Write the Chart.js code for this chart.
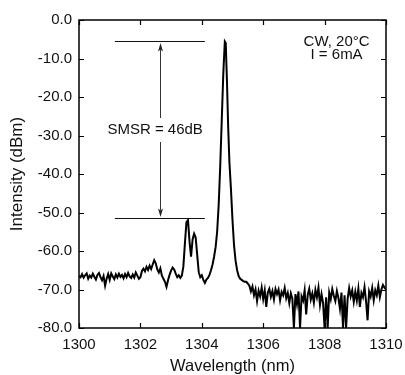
<!DOCTYPE html>
<html>
<head>
<meta charset="utf-8">
<script src="https://cdn.jsdelivr.net/npm/chart.js@4.4.1/dist/chart.umd.min.js"></script>
<style>
html,body{margin:0;padding:0;background:#fff;}
#wrap{width:405px;height:375px;position:relative;}
</style>
</head>
<body>
<div id="wrap"><canvas id="c" width="405" height="375"></canvas></div>
<script>
// Wavelength (nm)
const wavelength = [
1300.00,1300.05,1300.10,1300.15,1300.20,1300.25,1300.30,1300.35,1300.40,1300.45,
1300.50,1300.55,1300.60,1300.65,1300.70,1300.75,1300.80,1300.85,1300.90,1300.95,
1301.00,1301.05,1301.10,1301.15,1301.20,1301.25,1301.30,1301.35,1301.40,1301.45,
1301.50,1301.55,1301.60,1301.65,1301.70,1301.75,1301.80,1301.85,1301.90,1301.95,
1302.00,1302.05,1302.10,1302.15,1302.20,1302.25,1302.30,1302.35,1302.40,1302.45,
1302.50,1302.55,1302.60,1302.65,1302.70,1302.75,1302.80,1302.85,1302.90,1302.95,
1303.00,1303.05,1303.10,1303.15,1303.20,1303.25,1303.30,1303.35,1303.40,1303.45,
1303.50,1303.55,1303.60,1303.65,1303.70,1303.75,1303.80,1303.85,1303.90,1303.95,
1304.00,1304.05,1304.10,1304.15,1304.20,1304.25,1304.30,1304.35,1304.40,1304.45,
1304.50,1304.55,1304.60,1304.65,1304.70,1304.75,1304.78,1304.82,1304.86,1304.90,
1304.95,1305.00,1305.05,1305.10,1305.15,1305.20,1305.25,1305.30,1305.35,1305.40,
1305.45,1305.50,1305.55,1305.60,1305.65,1305.70,1305.75,1305.80,1305.85,1305.90,
1305.95,1306.00,1306.05,1306.10,1306.15,1306.20,1306.25,1306.30,1306.35,1306.40,
1306.45,1306.50,1306.55,1306.60,1306.65,1306.70,1306.75,1306.80,1306.85,1306.90,
1306.95,1307.00,1307.05,1307.10,1307.15,1307.20,1307.25,1307.30,1307.35,1307.40,
1307.45,1307.50,1307.55,1307.60,1307.65,1307.70,1307.75,1307.80,1307.85,1307.90,
1307.95,1308.00,1308.05,1308.10,1308.15,1308.20,1308.25,1308.30,1308.35,1308.40,
1308.45,1308.50,1308.55,1308.60,1308.65,1308.70,1308.75,1308.80,1308.85,1308.90,
1308.95,1309.00,1309.05,1309.10,1309.15,1309.20,1309.25,1309.30,1309.35,1309.40,
1309.45,1309.50,1309.55,1309.60,1309.65,1309.70,1309.75,1309.80,1309.85,1309.90,
1309.95,1310.00
];
// Intensity (dBm)
const intensity = [
-66.5,-66.8,-66.0,-66.9,-66.3,-65.8,-67.2,-66.4,-66.9,-65.9,
-66.7,-67.4,-66.2,-65.7,-66.8,-67.6,-66.5,-69.0,-67.2,-66.0,
-67.5,-65.8,-66.6,-67.3,-66.1,-66.9,-65.9,-66.7,-66.2,-67.1,
-66.0,-66.8,-65.7,-66.6,-67.0,-66.1,-66.9,-65.6,-66.4,-67.2,
-66.8,-65.2,-64.6,-65.3,-64.1,-64.9,-63.8,-64.7,-63.5,-62.4,
-63.2,-64.8,-65.6,-64.5,-66.4,-67.2,-68.0,-69.3,-67.6,-66.2,
-65.1,-64.3,-64.8,-65.9,-66.8,-66.3,-67.0,-66.4,-64.0,-58.0,
-52.5,-52.0,-57.5,-61.5,-57.0,-55.5,-56.5,-61.0,-65.5,-66.8,
-66.3,-67.5,-68.3,-67.4,-67.0,-66.2,-65.0,-63.5,-61.5,-59.0,
-55.0,-48.0,-38.0,-26.0,-14.0,-5.6,-6.0,-16.0,-28.0,-37.0,
-44.0,-52.0,-58.5,-62.5,-65.0,-66.5,-67.2,-67.5,-67.8,-68.0,
-68.0,-68.5,-69.0,-70.5,-69.2,-71.5,-70.0,-73.0,-70.3,-71.8,
-69.5,-72.5,-70.2,-74.5,-70.8,-69.8,-71.9,-70.4,-72.6,-69.9,
-71.2,-70.0,-72.8,-70.6,-71.5,-69.6,-72.3,-70.9,-73.5,-71.0,
-72.4,-80.0,-71.2,-73.8,-70.5,-80.0,-71.8,-72.9,-70.2,-76.5,
-71.4,-69.8,-72.6,-71.0,-73.4,-70.1,-72.0,-69.5,-74.0,-71.2,
-73.5,-80.0,-72.0,-80.0,-70.8,-72.5,-69.9,-71.6,-73.0,-70.4,
-72.2,-75.0,-70.8,-80.0,-71.5,-80.0,-72.4,-69.6,-71.8,-70.2,
-73.2,-70.6,-72.9,-69.8,-74.5,-70.9,-72.0,-69.4,-73.0,-78.0,
-70.5,-71.8,-69.6,-72.8,-70.2,-71.5,-69.0,-72.0,-70.0,-68.8,
-69.5,-70.0
];
const xTicks = [1300,1302,1304,1306,1308,1310];
const yTicks = [0,-10,-20,-30,-40,-50,-60,-70,-80];
// SMSR annotation (data units)
const smsrLineX = [1301.17, 1304.1];
const smsrArrowX = 1302.64;
const smsrLabelX = 1302.48;
const smsrTopLevel = -5.4;
const smsrBottomLevel = -51.3;
const smsrLabel = 'SMSR = 46dB';
const condLabelX = 1308.39;
const condLines = ['CW, 20°C', 'I = 6mA'];

const FONT = '"Liberation Sans", Arial, sans-serif';

const framePlugin = {
  id: 'frame',
  afterDatasetsDraw(chart) {
    const {ctx, chartArea: a, scales: {x, y}} = chart;
    ctx.save();
    ctx.strokeStyle = '#000';
    ctx.lineWidth = 1.5;
    ctx.strokeRect(a.left, a.top, a.right - a.left, a.bottom - a.top);
    ctx.lineWidth = 1.2;
    const tl = 5;
    ctx.beginPath();
    xTicks.forEach(v => {
      const px = Math.round(x.getPixelForValue(v)) + 0.5;
      ctx.moveTo(px, a.bottom); ctx.lineTo(px, a.bottom - tl);
      ctx.moveTo(px, a.top); ctx.lineTo(px, a.top + tl);
    });
    yTicks.forEach(v => {
      const py = Math.round(y.getPixelForValue(v)) + 0.5;
      ctx.moveTo(a.left, py); ctx.lineTo(a.left + tl, py);
      ctx.moveTo(a.right, py); ctx.lineTo(a.right - tl, py);
    });
    ctx.stroke();

    const x0 = x.getPixelForValue(smsrLineX[0]);
    const x1 = x.getPixelForValue(smsrLineX[1]);
    const yTop = Math.round(y.getPixelForValue(smsrTopLevel)) + 0.5;
    const yBot = Math.round(y.getPixelForValue(smsrBottomLevel)) + 0.5;
    ctx.lineWidth = 1;
    ctx.strokeStyle = '#111';
    ctx.beginPath();
    ctx.moveTo(x0, yTop); ctx.lineTo(x1, yTop);
    ctx.moveTo(x0, yBot); ctx.lineTo(x1, yBot);
    ctx.stroke();

    const ax = Math.round(x.getPixelForValue(smsrArrowX)) + 0.5;
    const yMid = (yTop + yBot) / 2;
    const gap = 12;
    ctx.strokeStyle = '#333';
    ctx.beginPath();
    ctx.moveTo(ax, yTop + 8); ctx.lineTo(ax, yMid - gap);
    ctx.moveTo(ax, yMid + gap); ctx.lineTo(ax, yBot - 8);
    ctx.stroke();
    ctx.fillStyle = '#222';
    ctx.beginPath();
    ctx.moveTo(ax, yTop + 1.5); ctx.lineTo(ax - 2.5, yTop + 10); ctx.lineTo(ax, yTop + 8); ctx.lineTo(ax + 2.5, yTop + 10); ctx.closePath();
    ctx.fill();
    ctx.beginPath();
    ctx.moveTo(ax, yBot - 1.5); ctx.lineTo(ax - 2.5, yBot - 10); ctx.lineTo(ax, yBot - 8); ctx.lineTo(ax + 2.5, yBot - 10); ctx.closePath();
    ctx.fill();

    ctx.fillStyle = '#111';
    ctx.font = '15px ' + FONT;
    ctx.textAlign = 'center';
    ctx.textBaseline = 'middle';
    ctx.fillText(smsrLabel, x.getPixelForValue(smsrLabelX), yMid);

    const cx = x.getPixelForValue(condLabelX);
    ctx.fillText(condLines[0], cx, a.top + 22);
    ctx.fillText(condLines[1], cx, a.top + 35);
    ctx.restore();
  }
};

const points = wavelength.map((w, i) => ({x: w, y: intensity[i]}));

new Chart(document.getElementById('c'), {
  type: 'line',
  data: {
    datasets: [{
      data: points,
      borderColor: '#000',
      borderWidth: 2,
      pointRadius: 0,
      tension: 0,
      fill: false
    }]
  },
  options: {
    responsive: false,
    animation: false,
    devicePixelRatio: 1,
    layout: {padding: {left: 0, right: 19, top: 20, bottom: 0}},
    plugins: {legend: {display: false}, tooltip: {enabled: false}},
    scales: {
      x: {
        type: 'linear', min: 1300, max: 1310,
        afterBuildTicks: s => { s.ticks = xTicks.map(v => ({value: v})); },
        afterFit: s => { s.height = 47; s.paddingLeft = 0; s.paddingRight = 0; },
        grid: {display: false, drawTicks: false},
        border: {display: false},
        ticks: {color: '#111', padding: 8, font: {family: FONT, size: 15}, maxRotation: 0, callback: v => String(v)},
        title: {display: true, text: 'Wavelength (nm)', color: '#111', font: {family: FONT, size: 16.5, lineHeight: 1.0}, padding: {top: 0, bottom: 0}}
      },
      y: {
        type: 'linear', min: -80, max: 0,
        afterBuildTicks: s => { s.ticks = yTicks.map(v => ({value: v})); },
        afterFit: s => { s.width = 79; s.paddingTop = 0; s.paddingBottom = 0; },
        grid: {display: false, drawTicks: false},
        border: {display: false},
        ticks: {color: '#111', padding: 7, font: {family: FONT, size: 15}, callback: v => Number(v).toFixed(1)},
        title: {display: true, text: 'Intensity (dBm)', color: '#111', font: {family: FONT, size: 17, lineHeight: 1.0}, padding: {top: 9, bottom: 0}}
      }
    }
  },
  plugins: [framePlugin]
});
</script>
</body>
</html>
